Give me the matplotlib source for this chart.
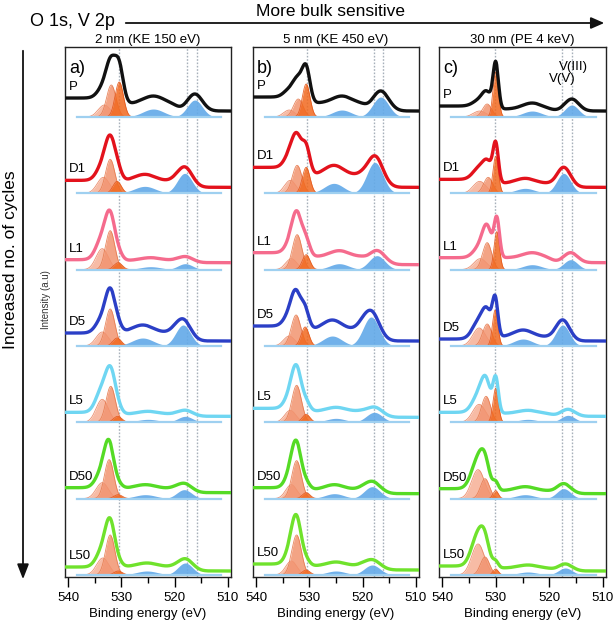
import numpy as np
import matplotlib
matplotlib.use('Agg')
import matplotlib.pyplot as plt

plt.rcParams['font.family'] = ['Liberation Sans', 'DejaVu Sans']

# spectra, top to bottom
LABELS = ['P', 'D1', 'L1', 'D5', 'L5', 'D50', 'L50']
LINE_COLORS = ['#111111', '#e3121c', '#f56b8d', '#2b3fc6', '#6fd6f2', '#55db25', '#6fe22c']
PANEL_TAGS = ['a)', 'b)', 'c)']
PANEL_TITLES = ['2 nm (KE 150 eV)', '5 nm (KE 450 eV)', '30 nm (PE 4 keV)']
REF_LINES = [[530.4, 517.7, 515.8], [530.5, 517.9, 516.1], [530.1, 517.6, 515.8]]
TICKS = [540, 530, 520, 510]

# fitted components (centre eV, height) for each spectrum
# panel a, 2 nm
A_O3 = [(533.2, 12), (533.4, 16), (533.6, 21), (533.6, 14), (533.6, 23), (533.6, 16), (533.5, 17)]
A_O2 = [(531.9, 32), (532.1, 34), (532.1, 39), (532.1, 37), (532.0, 36), (532.3, 39), (532.1, 40)]
A_O1 = [(530.4, 35), (530.8, 12), (530.6, 7), (530.8, 8), (530.7, 6), (530.6, 4), (530.6, 4)]
A_V1 = [(524.0, 8), (525.6, 7), (524.5, 3), (526.0, 8), (525.0, 3), (525.5, 4), (525.2, 4)]
A_V3 = [(516.2, 17), (518.1, 20), (518.0, 6), (518.4, 21), (518.0, 6), (518.2, 9), (518.0, 12)]
A_BG = [(6, 7, 6), (6, 6, 1), (7, 2, 1), (5, 8, 0), (6, 2, 2), (6, 4, 1), (4, 4, 0)]
# panel b, 5 nm
B_O3 = [(533.8, 7), (533.6, 13), (533.4, 11), (533.8, 10), (533.6, 12), (533.4, 14), (533.4, 14)]
B_O2 = [(532.1, 18), (532.3, 28), (532.3, 35), (532.5, 31), (532.4, 37), (532.4, 38), (532.4, 40)]
B_O1 = [(530.6, 33), (530.6, 26), (530.6, 15), (530.8, 19), (530.6, 8), (530.6, 6), (530.6, 5)]
B_V1 = [(523.9, 7), (525.4, 10), (524.4, 6), (525.7, 10), (525.0, 4), (525.3, 5), (525.0, 4)]
B_V3 = [(516.6, 20), (517.7, 31), (517.3, 14), (518.4, 29), (517.8, 10), (518.2, 12), (518.2, 10)]
B_BG = [(6, 8, 6), (6, 12, 8), (5, 8, 4), (5, 11, 4), (5, 6, 3), (5, 4, 2), (5, 4, 2)]
# panel c, 30 nm
C_O3 = [(533.0, 6), (533.0, 12), (532.9, 11), (533.1, 18), (533.1, 18), (533.3, 29), (533.3, 31)]
C_O2 = [(531.6, 13), (531.4, 16), (531.6, 27), (531.6, 22), (531.8, 26), (532.0, 20), (532.0, 18)]
C_O1 = [(530.0, 45), (530.0, 37), (529.8, 38), (530.1, 36), (530.0, 34), (530.0, 8), (530.0, 6)]
C_V1 = [(523.2, 6), (524.5, 5), (523.2, 5), (524.9, 7), (524.0, 3), (524.5, 4), (524.0, 3)]
C_V3 = [(515.8, 12), (517.3, 20), (516.0, 10), (517.5, 21), (516.5, 7), (517.3, 10), (517.0, 7)]
C_BG = [(6, 2, 3), (6, 4, 4), (7, 5, 0), (5, 4, -2), (6, 3, 1), (5, 3, 2), (4, 3, 2)]

# peak widths (sigma, eV) per panel: O3, O2, O1, V 2p1/2, V 2p3/2
WIDTHS = [(1.15, 0.88, 0.78, 2.0, 1.4), (1.05, 0.9, 0.72, 1.8, 1.5), (1.2, 0.85, 0.5, 1.8, 1.3)]

PANELS = [(A_O3, A_O2, A_O1, A_V1, A_V3, A_BG),
          (B_O3, B_O2, B_O1, B_V1, B_V3, B_BG),
          (C_O3, C_O2, C_O1, C_V1, C_V3, C_BG)]

SPACING = 76.3
FILL_COLORS = ['#f6b095', '#f29470', '#f1691f']
FILL_EDGES = ['#e98462', '#e57a4e', '#e4571a']
BLUE_FILL = '#62a9e8'
BLUE_BASE = '#9fd0f0'


def gauss(x, c, h, s):
    return h * np.exp(-0.5 * ((x - c) / s) ** 2)


def step(x, c, w):
    return 0.5 * (1 + np.tanh((x - c) / w))


fig = plt.figure(figsize=(6.14, 6.25), dpi=100)
lefts = [65, 253, 439]
widths_px = [166, 166, 167]
x_full = np.linspace(509.4, 540.6, 800)
x_fit = np.linspace(511.2, 538.3, 800)

for p in range(3):
    ax = fig.add_axes([lefts[p] / 614, 1 - 577 / 625, widths_px[p] / 614, 530 / 625])
    o3s, o2s, o1s, v1s, v3s, bgs = PANELS[p]
    w3, w2, w1, wv1, wv3 = WIDTHS[p]
    for e in REF_LINES[p]:
        ax.axvline(e, color='#a7b0ba', lw=1.0, ls=(0, (1.2, 1.2)), zorder=1)
    for i in range(len(LABELS)):
        off = (len(LABELS) - 1 - i) * SPACING
        b0, b1, b2 = bgs[i]

        def comps(x):
            return [gauss(x, o3s[i][0], o3s[i][1], w3),
                    gauss(x, o2s[i][0], o2s[i][1], w2),
                    gauss(x, o1s[i][0], o1s[i][1], w1),
                    gauss(x, v1s[i][0], v1s[i][1], wv1),
                    gauss(x, v3s[i][0], v3s[i][1], wv3)]

        cf = comps(x_fit)
        for k in range(3):
            ax.fill_between(x_fit, off, off + cf[k], color=FILL_COLORS[k], alpha=0.85,
                            lw=0, zorder=2)
            ax.plot(x_fit, off + cf[k], color=FILL_EDGES[k], lw=0.6, alpha=0.9, zorder=2)
        for k in (3, 4):
            ax.fill_between(x_fit, off, off + cf[k], color=BLUE_FILL, alpha=0.9, lw=0, zorder=2)
        ax.plot(x_fit, np.full_like(x_fit, off), color=BLUE_BASE, lw=1.6, zorder=3)

        cd = comps(x_full)
        bg = b0 + b1 * step(x_full, 519.5, 1.2) + b2 * step(x_full, 531.5, 0.9)
        ax.plot(x_full, off + sum(cd) + bg, color=LINE_COLORS[i], lw=2.4, zorder=4,
                solid_capstyle='butt')
        ax.text(539.9, off + b0 + b1 + b2 + 5, LABELS[i], fontsize=9.5,
                ha='left', va='bottom', zorder=5)

    ax.text(0.025, 0.975, PANEL_TAGS[p], transform=ax.transAxes, fontsize=13,
            ha='left', va='top')
    ax.set_title(PANEL_TITLES[p], fontsize=9.5, pad=3)
    ax.set_xlim(540.6, 509.4)
    ax.set_ylim(-2, 6 * SPACING + 70)
    ax.set_xticks(TICKS)
    ax.set_xticks([535, 525, 515], minor=True)
    ax.set_yticks([])
    ax.tick_params(axis='x', direction='out', length=7, width=1, labelsize=9.5, pad=4)
    ax.tick_params(axis='x', which='minor', direction='out', length=4, width=1)
    ax.set_xlabel('Binding energy (eV)', fontsize=9.5, labelpad=3)
    for sp in ax.spines.values():
        sp.set_linewidth(1.0)
        sp.set_color('#222222')
    if p == 2:
        ax.text(517.6, 6 * SPACING + 32, 'V(V)', fontsize=9.5, ha='center', va='bottom')
        ax.text(515.5, 6 * SPACING + 44, 'V(III)', fontsize=9.5, ha='center', va='bottom')

# headers and arrows
fig.text(30 / 614, 1 - 22 / 625, 'O 1s, V 2p', fontsize=13, ha='left', va='center')
fig.text(330 / 614, 1 - 11 / 625, 'More bulk sensitive', fontsize=12.5, ha='center', va='center')
fig.patches.append(matplotlib.patches.FancyArrowPatch(
    (123 / 614, 1 - 23 / 625), (607 / 614, 1 - 23 / 625), transform=fig.transFigure,
    arrowstyle='-|>,head_length=8,head_width=3.5', color='#111111', lw=1.3))
fig.patches.append(matplotlib.patches.FancyArrowPatch(
    (23 / 614, 1 - 48 / 625), (23 / 614, 1 - 582 / 625), transform=fig.transFigure,
    arrowstyle='-|>,head_length=9,head_width=3.5', color='#111111', lw=1.3))
fig.text(11 / 614, 1 - 260 / 625, 'Increased no. of cycles', fontsize=12.5, rotation=90,
         ha='center', va='center')
fig.text(46 / 614, 1 - 300 / 625, 'Intensity (a.u)', fontsize=7, rotation=90,
         ha='center', va='center', color='#333333')

fig.savefig('out.png', dpi=100)
